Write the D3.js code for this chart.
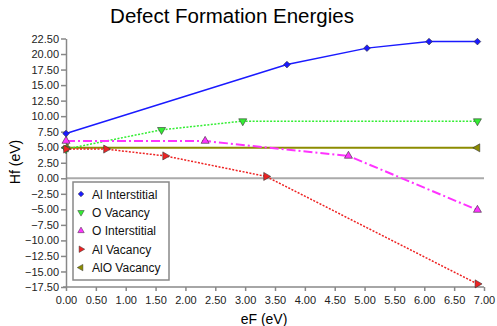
<!DOCTYPE html>
<html><head><meta charset="utf-8">
<script src="https://cdn.jsdelivr.net/npm/d3@7"></script>
<style>body{margin:0;background:#fff}svg{display:block;font-family:"Liberation Sans",Arial,sans-serif}</style>
</head><body>
<script>
const seriesNames = ["Al Interstitial","O Vacancy","O Interstitial","Al Vacancy","AlO Vacancy"];
const alInterstitialX = [0, 3.70, 5.04, 6.08, 6.89];
const alInterstitialY = [7.2, 18.3, 20.95, 22.0, 22.0];
const oVacancyX = [0, 1.60, 2.96, 6.89];
const oVacancyY = [4.7, 7.8, 9.2, 9.2];
const oInterstitialX = [0, 2.33, 4.73, 6.89];
const oInterstitialY = [6.0, 6.0, 3.6, -5.1];
const alVacancyX = [0, 0.67, 1.66, 3.35, 6.89];
const alVacancyY = [4.7, 4.7, 3.6, 0.3, -17.0];
const aloVacancyX = [0, 6.89];
const aloVacancyY = [4.9, 4.9];
const xTicks = d3.range(0, 7.001, 0.5);
const yTicks = d3.range(-17.5, 22.501, 2.5);

const W = 497, H = 326;
const m = {left:66, right:13, top:38.5, bottom:39};
const svg = d3.select("body").append("svg").attr("width",W).attr("height",H);
const x = d3.scaleLinear().domain([0,7]).range([m.left, W-m.right]);
const y = d3.scaleLinear().domain([-17.5,22.5]).range([H-m.bottom, m.top]);

const styles = [
  {color:"#1a1aff", dash:null, width:1.5, sym:d3.symbolSquare, rot:45},
  {color:"#33ee33", dash:"2,1.5", width:1.5, sym:d3.symbolTriangle, rot:180},
  {color:"#ff33ff", dash:"9,3,2,3", width:2, sym:d3.symbolTriangle, rot:0},
  {color:"#ee2222", dash:"2,1.5", width:1.5, sym:d3.symbolTriangle, rot:90},
  {color:"#8c8c00", dash:null, width:2, sym:d3.symbolTriangle, rot:-90}
];
const series = [
  [alInterstitialX, alInterstitialY],
  [oVacancyX, oVacancyY],
  [oInterstitialX, oInterstitialY],
  [alVacancyX, alVacancyY],
  [aloVacancyX, aloVacancyY]
].map((s,i)=>({name:seriesNames[i], pts:s[0].map((v,j)=>[v,s[1][j]]), st:styles[i]}));

// title
svg.append("text").attr("x",232).attr("y",23).attr("text-anchor","middle")
  .attr("font-size",20.5).text("Defect Formation Energies");

// zero line
svg.append("line").attr("x1",x(0)).attr("x2",x(7)).attr("y1",y(0)).attr("y2",y(0))
  .attr("stroke","#aaaaaa").attr("stroke-width",2);

// axes
const yAxis = svg.append("g").attr("transform",`translate(${m.left},0)`)
  .call(d3.axisLeft(y).tickValues(yTicks).tickFormat(d3.format(".2f")).tickSize(5).tickSizeOuter(0));
const xAxis = svg.append("g").attr("transform",`translate(0,${H-m.bottom})`)
  .call(d3.axisBottom(x).tickValues(xTicks).tickFormat(d3.format(".2f")).tickSize(4).tickSizeOuter(0));
[xAxis,yAxis].forEach(a=>{
  a.selectAll("text").attr("font-size",11).attr("fill","#222").attr("font-family","Liberation Sans, Arial, sans-serif");
  a.selectAll("line,path").attr("stroke","#888").attr("stroke-width",1.5);
});
yAxis.selectAll("text").attr("x",-7);
xAxis.selectAll("text").attr("y",9);
xAxis.select("path").attr("d",`M${m.left-3},0H${W-m.right}`);

svg.append("text").attr("x",264).attr("y",324).attr("text-anchor","middle").attr("font-size",14).text("eF (eV)");
svg.append("text").attr("transform",`translate(20,162) rotate(-90)`).attr("text-anchor","middle").attr("font-size",14).text("Hf (eV)");

// lines
const line = d3.line().x(d=>x(d[0])).y(d=>y(d[1]));
const order = [4,0,1,2,3];
order.forEach(i=>{
  const s = series[i];
  svg.append("path").attr("d",line(s.pts)).attr("fill","none")
    .attr("stroke",s.st.color).attr("stroke-width",s.st.width)
    .attr("stroke-dasharray",s.st.dash);
});
order.forEach(i=>{
  const s = series[i];
  svg.selectAll(null).data(s.pts).enter().append("path")
    .attr("d",d3.symbol().type(s.st.sym).size(i===0?22:28))
    .attr("transform",d=>`translate(${x(d[0])},${y(d[1])}) rotate(${s.st.rot})`)
    .attr("fill",s.st.color).attr("stroke","#333").attr("stroke-width",0.6);
});

// legend
const lg = svg.append("g").attr("transform","translate(73,182)");
lg.append("rect").attr("width",96).attr("height",98).attr("fill","#fff")
  .attr("stroke","#888").attr("stroke-width",1.5);
series.forEach((s,i)=>{
  const yy = 12 + i*18.4;
  lg.append("path").attr("d",d3.symbol().type(s.st.sym).size(i===0?16:18))
    .attr("transform",`translate(8,${yy}) rotate(${s.st.rot})`)
    .attr("fill",s.st.color).attr("stroke","#333").attr("stroke-width",0.5);
  lg.append("text").attr("x",19).attr("y",yy+4.5).attr("font-size",12).attr("fill","#111").text(s.name);
});
</script>
</body></html>
